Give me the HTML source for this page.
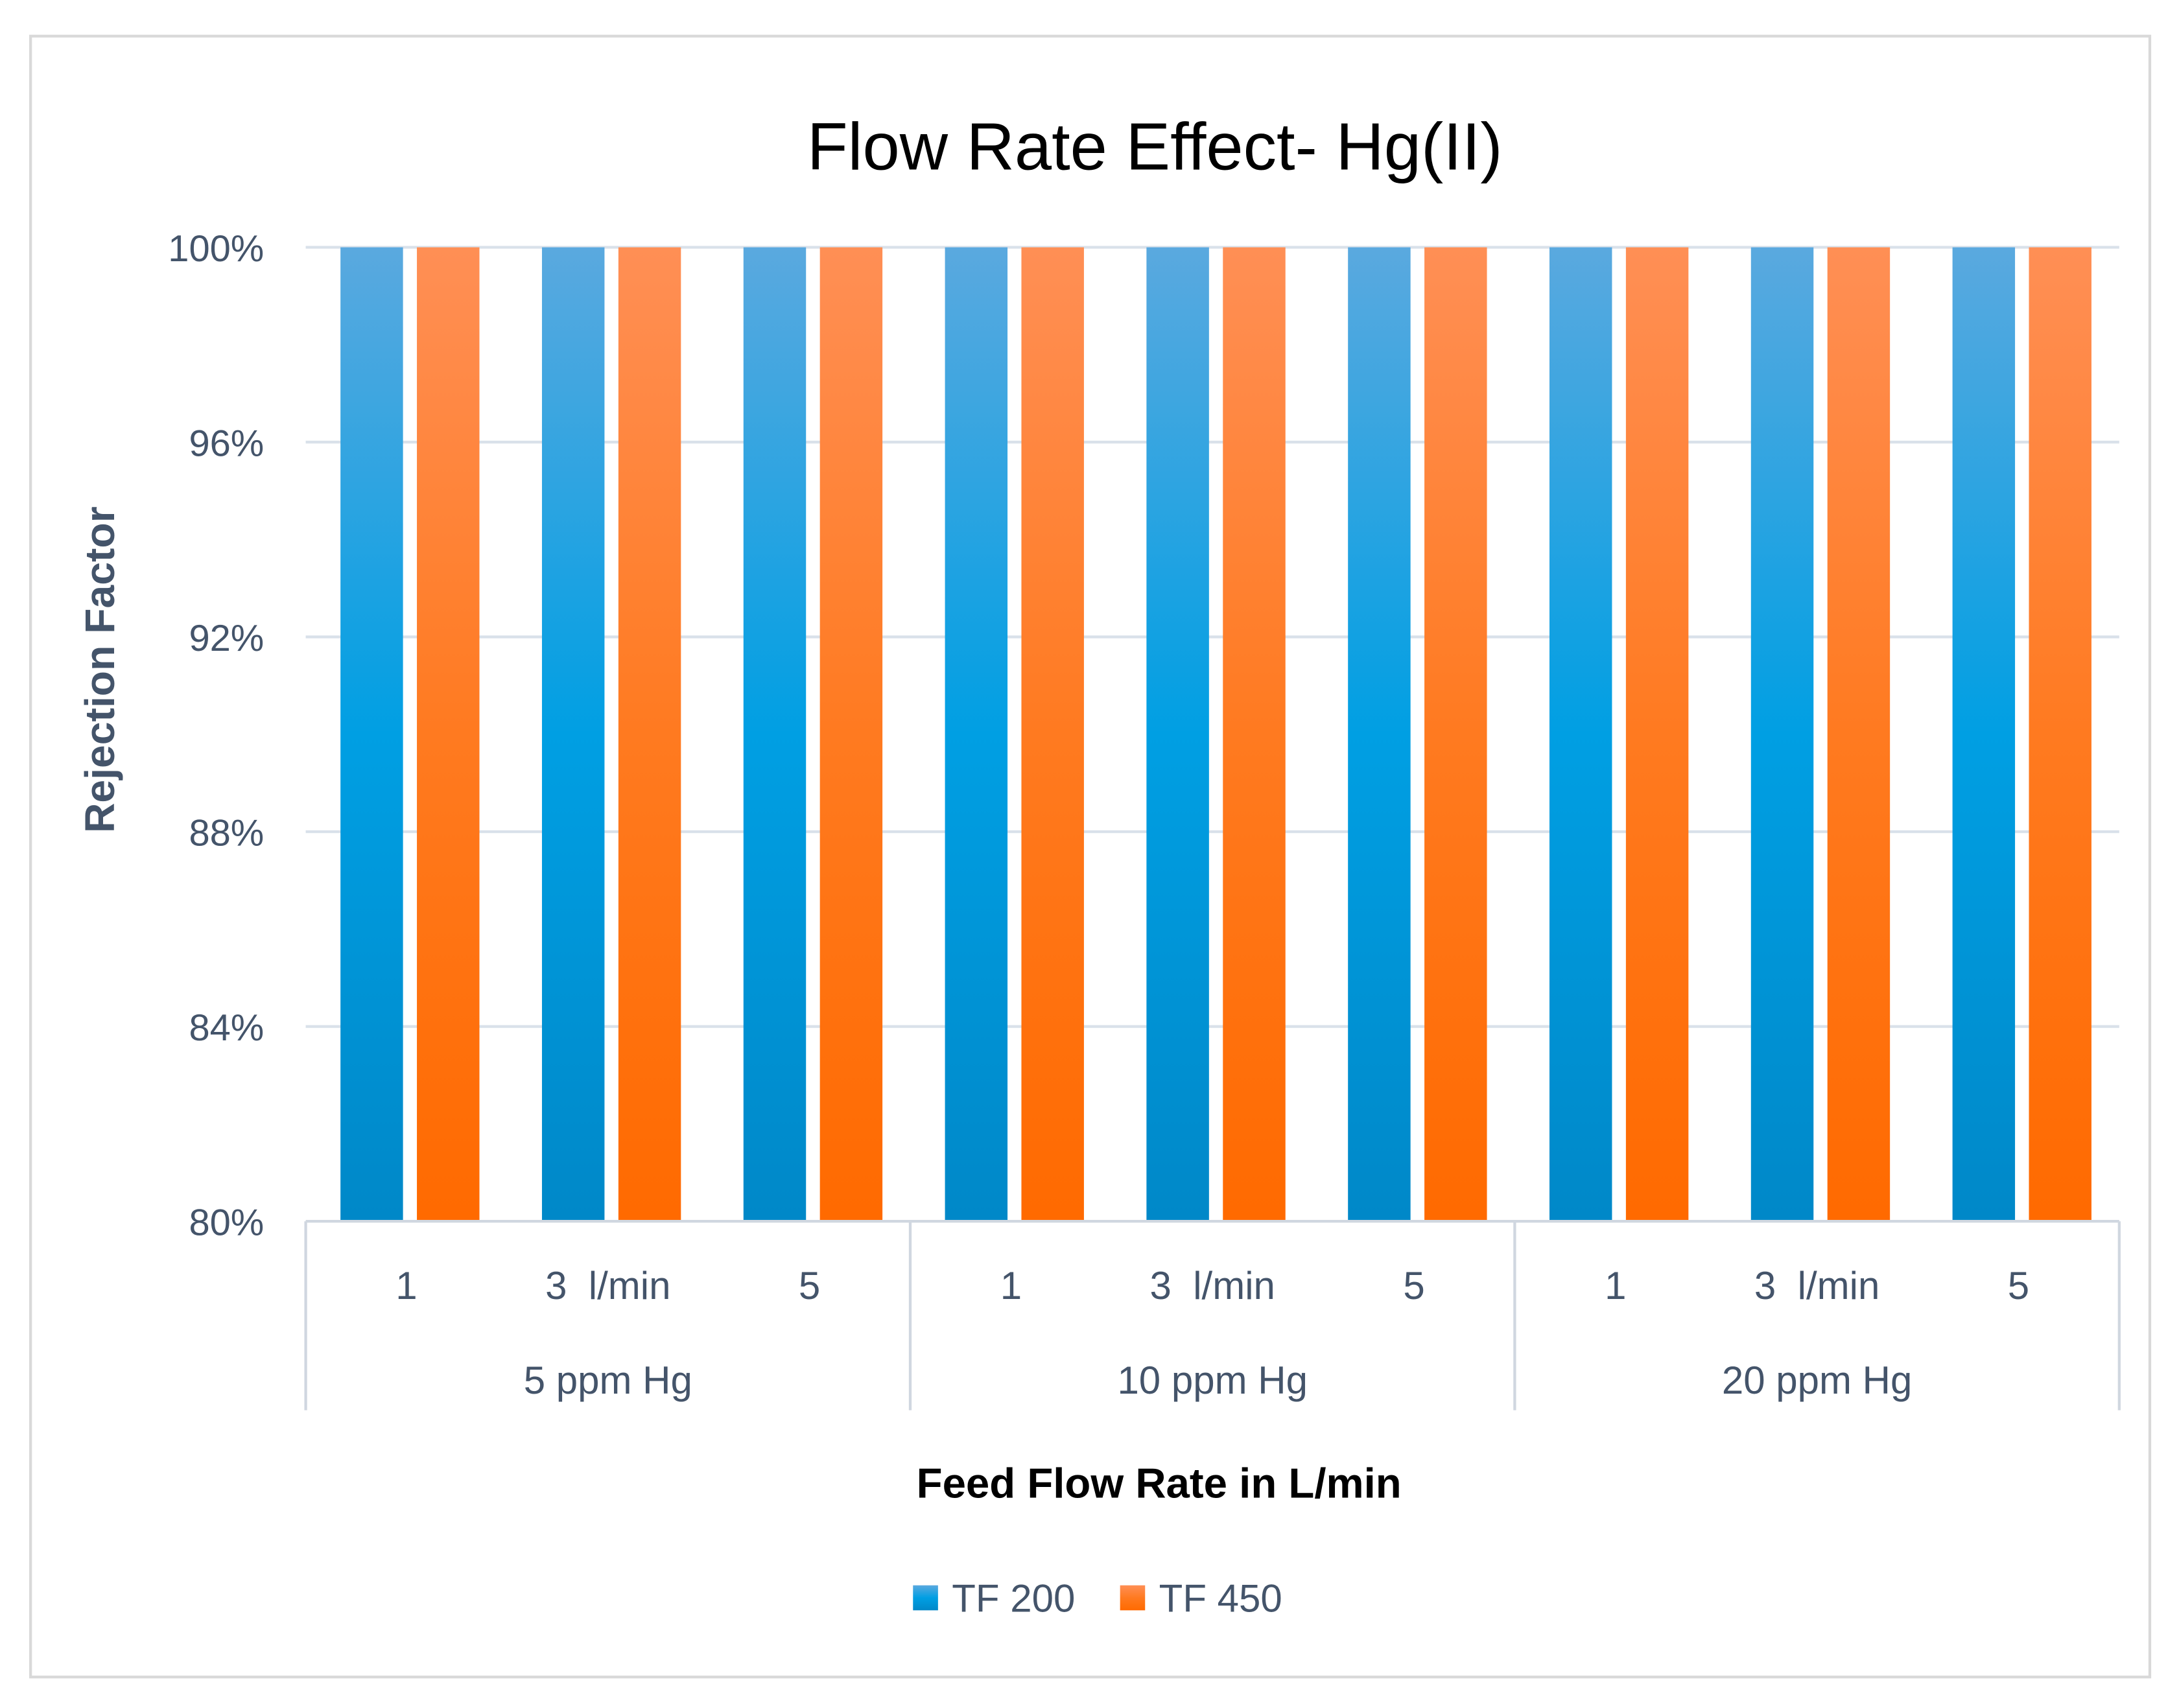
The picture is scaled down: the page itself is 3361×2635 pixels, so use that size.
<!DOCTYPE html>
<html><head><meta charset="utf-8">
<style>
html,body{margin:0;padding:0;background:#fff;}
svg{display:block;}
text{font-family:"Liberation Sans","DejaVu Sans",sans-serif;fill:#44546a;white-space:pre;}
</style></head>
<body>
<svg id="chart" width="3361" height="2635" viewBox="0 0 1568 1229.3">
<defs>
<linearGradient id="gBlue" x1="0" y1="0" x2="0" y2="1">
<stop offset="0" stop-color="#5aa9df"/><stop offset="0.5" stop-color="#009fe3"/><stop offset="1" stop-color="#0088c8"/>
</linearGradient>
<linearGradient id="gOrange" x1="0" y1="0" x2="0" y2="1">
<stop offset="0" stop-color="#ff8f55"/><stop offset="0.5" stop-color="#ff7a20"/><stop offset="1" stop-color="#ff6a00"/>
</linearGradient>
</defs>
<rect x="22" y="26" width="1525" height="1181" fill="#fff" stroke="#d9d9d9" stroke-width="2"/>
<text x="831" y="122" font-size="48" text-anchor="middle" style="fill:#000">Flow Rate Effect- Hg(II)</text>
<g id="grid"></g>
<g id="bars"></g>
<g id="xaxis"></g>
<text transform="translate(82,482) rotate(-90)" font-size="30" font-weight="bold" text-anchor="middle">Rejection Factor</text>
<text x="834" y="1078" font-size="30.5" font-weight="bold" text-anchor="middle" style="fill:#000">Feed Flow Rate in L/min</text>
<g>
<rect x="657" y="1141" width="18" height="18" fill="url(#gBlue)"/>
<text x="685" y="1160" font-size="28">TF 200</text>
<rect x="806" y="1141" width="18" height="18" fill="url(#gOrange)"/>
<text x="834" y="1160" font-size="28">TF 450</text>
</g>
</svg>
<script>
const categories = ["1","3  l/min","5","1","3  l/min","5","1","3  l/min","5"];
const groups = ["5 ppm Hg","10 ppm Hg","20 ppm Hg"];
const tf200 = [100,100,100,100,100,100,100,100,100];
const tf450 = [100,100,100,100,100,100,100,100,100];
const yTicks = [80,84,88,92,96,100];

const NS="http://www.w3.org/2000/svg";
const L=220,R=1525,T=178,B=879,yMin=80,yMax=100;
const y=v=>B-(v-yMin)/(yMax-yMin)*(B-T);
const cw=(R-L)/categories.length;
const x=i=>L+i*cw;
function mk(tag,attrs,parent){const e=document.createElementNS(NS,tag);for(const k in attrs)e.setAttribute(k,attrs[k]);parent.appendChild(e);return e;}
const grid=document.getElementById('grid'),bars=document.getElementById('bars'),xa=document.getElementById('xaxis');
yTicks.forEach(t=>{
  if(t!==yMin){const l=mk('line',{x1:L,x2:R,y1:y(t),y2:y(t),stroke:'#d9e1ea','stroke-width':2},grid);
  
  }
  const tx=mk('text',{x:190,y:y(t)+10,'font-size':27,'text-anchor':'end'},grid);tx.textContent=t+'%';
  
  
});
categories.forEach((c,i)=>{
  const b1=mk('rect',{x:x(i)+25,y:y(tf200[i]),width:45,height:B-y(tf200[i]),fill:'url(#gBlue)'},bars);
  
  
  const b2=mk('rect',{x:x(i)+80,y:y(tf450[i]),width:45,height:B-y(tf450[i]),fill:'url(#gOrange)'},bars);
  
  
  const t=mk('text',{x:x(i)+cw/2,y:935,'font-size':28,'text-anchor':'middle'},xa);t.textContent=c;
  
  
});
const ax=mk('line',{x1:L,x2:R,y1:B,y2:B,stroke:'#d0d7e0','stroke-width':2},xa);


const gw=(R-L)/groups.length;
for(let g=0;g<=groups.length;g++){
  const l=mk('line',{x1:L+g*gw,x2:L+g*gw,y1:B,y2:1015,stroke:'#d0d7e0','stroke-width':2},xa);
  
  
}
groups.forEach((gname,g)=>{
  const t=mk('text',{x:L+g*gw+gw/2,y:1003,'font-size':28,'text-anchor':'middle'},xa);t.textContent=gname;
  
  
});
</script>
</body></html>
